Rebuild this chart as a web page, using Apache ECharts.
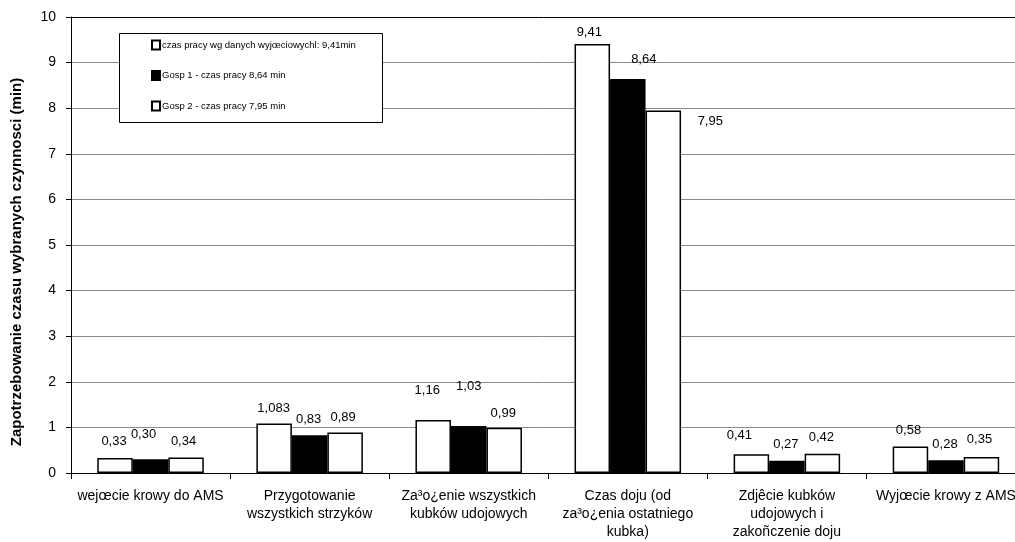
<!DOCTYPE html>
<html>
<head>
<meta charset="utf-8">
<script src="https://cdn.jsdelivr.net/npm/echarts@6/dist/echarts.min.js"></script>
<style>
  html, body { margin: 0; padding: 0; background: #fff; }
  #chart { width: 1015px; height: 542px; }
</style>
</head>
<body>
<div id="chart"></div>
<script>
// Activities of the milking cycle
const categories = [
  'wejœcie krowy do AMS',
  'Przygotowanie\nwszystkich strzyków',
  'Za³o¿enie wszystkich\nkubków udojowych',
  'Czas doju (od\nza³o¿enia ostatniego\nkubka)',
  'Zdjêcie kubków\nudojowych i\nzakoñczenie doju',
  'Wyjœcie krowy z AMS'
];

const seriesNames = [
  'czas pracy wg danych wyjœciowychl: 9,41min',
  'Gosp 1 - czas pracy 8,64 min',
  'Gosp 2 - czas pracy 7,95 min'
];

// Times in minutes (kept as written so labels show the same digits)
const valuesBase = ['0.33', '1.083', '1.16', '9.41', '0.41', '0.58'];
const valuesGosp1 = ['0.30', '0.83', '1.03', '8.64', '0.27', '0.28'];
const valuesGosp2 = ['0.34', '0.89', '0.99', '7.95', '0.42', '0.35'];

const yTicks = [0, 1, 2, 3, 4, 5, 6, 7, 8, 9, 10];

// Hand-placed label nudges [dx, dy] per bar
const labelNudge = [
  [[-1, -5], [-0.5, -4], [-6, -18], [-3, 0], [-12, -7], [-2, -5]],
  [[-7, -13], [-1, -4], [0, -28], [16, -8], [-1, -5], [-1, -4]],
  [[-2.5, -5], [-2, -3], [-1, -3], [47, 22], [-1, -5], [-2, -6]]
];

const FONT = 'Liberation Sans, Arial, sans-serif';

function makeSeries(idx, raw, fill) {
  return {
    name: seriesNames[idx],
    type: 'bar',
    barWidth: 35.5,
    barGap: '0%',
    data: raw.map((s, i) => ({
      value: Number(s),
      label: { offset: labelNudge[idx][i] }
    })),
    itemStyle: { color: fill, borderColor: '#000', borderWidth: 1.5 },
    label: {
      show: true,
      position: 'top',
      distance: 5,
      color: '#000',
      fontFamily: FONT,
      fontSize: 13,
      formatter: p => raw[p.dataIndex].replace('.', ',')
    },
    emphasis: { disabled: true },
    animation: false
  };
}

const chart = echarts.init(document.getElementById('chart'), null, { renderer: 'canvas' });

const gridColors = yTicks.map(t => (t === yTicks[yTicks.length - 1] ? '#000' : '#8a8a8a'));

chart.setOption({
  backgroundColor: '#fff',
  animation: false,
  grid: {
    left: 71,
    right: -10.5,
    top: 17,
    bottom: 69,
    containLabel: false,
    outerBoundsMode: 'none'
  },
  xAxis: {
    type: 'category',
    data: categories,
    axisLine: { lineStyle: { color: '#000', width: 1 } },
    axisTick: { show: true, length: 6, lineStyle: { color: '#000' }, alignWithLabel: false },
    axisLabel: {
      interval: 0,
      margin: 14,
      color: '#000',
      fontFamily: FONT,
      fontSize: 14,
      lineHeight: 18,
      hideOverlap: false
    }
  },
  yAxis: {
    type: 'value',
    min: yTicks[0],
    max: yTicks[yTicks.length - 1],
    interval: 1,
    axisLine: { show: true, lineStyle: { color: '#000', width: 1 } },
    axisTick: { show: true, length: 5, lineStyle: { color: '#000' } },
    axisLabel: {
      margin: 15,
      color: '#000',
      fontFamily: FONT,
      fontSize: 14
    },
    splitLine: { show: true, lineStyle: { color: gridColors, width: 1 } }
  },
  legend: {
    orient: 'vertical',
    left: 151,
    top: 39,
    itemWidth: 8,
    itemHeight: 9,
    itemGap: 18.5,
    padding: 0,
    selectedMode: false,
    icon: 'rect',
    textStyle: { fontFamily: FONT, fontSize: 9.5, color: '#000', lineHeight: 12, padding: [0, 0, 0, -3] },
    data: seriesNames,
    z: 10
  },
  graphic: [
    {
      type: 'rect',
      z: 5,
      shape: { x: 119.5, y: 33.5, width: 263, height: 89 },
      style: { fill: '#fff', stroke: '#000', lineWidth: 1 }
    },
    {
      type: 'text',
      z: 5,
      x: 17,
      y: 262,
      rotation: Math.PI / 2,
      style: {
        text: 'Zapotrzebowanie czasu wybranych czynnosci (min)',
        fontFamily: FONT,
        fontSize: 15,
        fontWeight: 'bold',
        fill: '#000',
        align: 'center',
        verticalAlign: 'middle'
      }
    }
  ],
  series: [
    makeSeries(0, valuesBase, '#fff'),
    makeSeries(1, valuesGosp1, '#000'),
    makeSeries(2, valuesGosp2, '#fff')
  ]
});
</script>
</body>
</html>
